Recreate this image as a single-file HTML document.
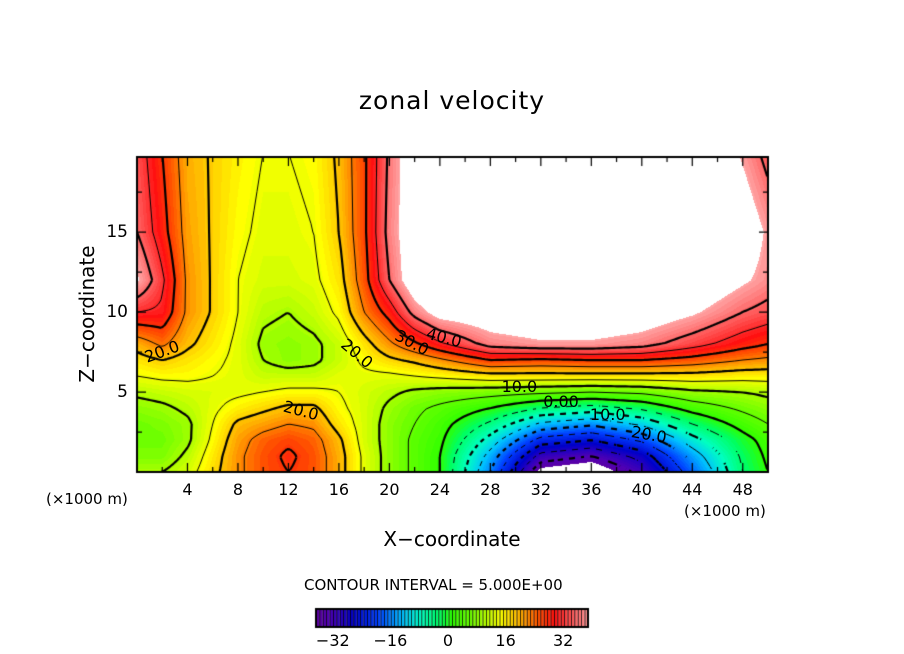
<!DOCTYPE html>
<html><head><meta charset="utf-8"><style>
body{margin:0;background:#fff;width:904px;height:654px;overflow:hidden;position:relative;font-family:"DejaVu Sans","Liberation Sans",sans-serif}
.t{position:absolute;color:#000;white-space:nowrap}
</style></head><body>
<div class="t" style="left:0;width:904px;text-align:center;top:86px;font-size:25px;letter-spacing:1px">zonal velocity</div>
<div class="t" style="top:302px;width:180px;text-align:center;font-size:20px;transform:rotate(-90deg);transform-origin:90px 12px;left:-3px">Z−coordinate</div>
<div class="t" style="left:352px;width:200px;text-align:center;top:527px;font-size:20px">X−coordinate</div>
<div class="t" style="left:46px;top:490px;font-size:15px">(×1000 m)</div>
<div class="t" style="left:684px;top:502px;font-size:15px">(×1000 m)</div>
<div class="t" style="left:304px;top:576px;font-size:15px">CONTOUR INTERVAL = 5.000E+00</div>
<canvas id="cv" width="904" height="654" style="position:absolute;left:0;top:0"></canvas>
<div id="lbls"></div>
<script>
const xs=[0,2,4,8,10,12,14,16,18,20,22,24,28,32,36,40,44,48,50];
const zs=[0,1,2,3,4,5,6,7,8,10,12,15,20];
const vals=[
[10,7,6,6,8,11,15,18,22,35,46,40,38],
[10,7,6,7,9,12,16,20,26,34,36,32,30],
[13,11,9,9,11,13,16,18,21,24,24,23,22],
[24,24,23,21,17,14,14,14,14,15,15,16,17],
[28,28,27,23,19,15,12,10,9,11,13,14,15],
[30,31,29,25,21,16,12,8,8,10,13,14,15],
[28,28,27,24,21,16,12,9,9,12,14,15,16],
[22,22,21,18,16,15,14,12,12,16,18,20,21],
[14,14,13,13,13,13,14,16,18,25,28,29,29],
[8,8,8,8,9,11,14,19,24,32,40,42,41],
[4,4,4,5,6,9,15,21,29,42,50,50,50],
[0,0,1,2,4,8,16,24,34,48,55,55,55],
[-20,-17,-12,-6,0,7,18,30,42,50,55,55,55],
[-45,-37,-27,-16,-5,6,18,29,44,52,55,55,55],
[-48,-40,-30,-19,-7,5,18,30,44,52,55,55,55],
[-38,-33,-24,-14,-4,6,18,30,42,50,55,55,55],
[-22,-18,-12,-5,2,9,18,28,37,46,52,55,55],
[-5,-4,-2,2,6,10,17,25,32,40,46,50,44],
[0,1,2,5,8,11,17,24,30,38,43,44,38]];
const xTicks=[4,8,12,16,20,24,28,32,36,40,44,48];
const zTicks=[5,10,15];
const barTicks=[-32,-16,0,16,32];
const levels=[-40,-35,-30,-25,-20,-15,-10,-5,0,5,10,15,20,25,30,35,40];
const contourLabels=[{t:"20.0",x:2.0,z:7.5,r:-20},{t:"20.0",x:17.4,z:7.4,r:40},{t:"30.0",x:21.8,z:8.1,r:28},{t:"40.0",x:24.3,z:8.4,r:15},{t:"20.0",x:13.0,z:3.8,r:15},{t:"10.0",x:30.3,z:5.3,r:0},{t:"0.00",x:33.6,z:4.4,r:0},{t:"10.0",x:37.3,z:3.6,r:0},{t:"20.0",x:40.6,z:2.3,r:10}];

const L=137,R=768,T=157,B=472,X0=0,X1=50,Z0=0,Z1=19.7;
const sx=x=>L+(x-X0)/(X1-X0)*(R-L);
const sz=z=>B-(z-Z0)/(Z1-Z0)*(B-T);
function seg(a,v){let i=0;while(i<a.length-2&&v>a[i+1])i++;return [i,Math.max(0,Math.min(1,(v-a[i])/(a[i+1]-a[i])))];}
function field(x,z){const [i,fx]=seg(xs,x),[j,fz]=seg(zs,z);
 const a=vals[i][j],b=vals[i+1][j],c=vals[i][j+1],d=vals[i+1][j+1];
 return a*(1-fx)*(1-fz)+b*fx*(1-fz)+c*(1-fx)*fz+d*fx*fz;}
const stops=[[-46,[100,0,150]],[-40,[80,0,180]],[-32,[0,0,200]],[-24,[0,64,255]],[-16,[0,192,255]],[-10,[0,255,192]],[-4,[0,255,96]],[0,[48,255,0]],[6,[110,255,0]],[12,[200,255,0]],[16,[255,255,0]],[22,[255,176,0]],[28,[255,80,0]],[33,[255,16,16]],[38,[255,80,80]],[45,[255,165,165]]];
function col(v){if(v<=stops[0][0])return stops[0][1];for(let k=0;k<stops.length-1;k++){const [a,ca]=stops[k],[b,cb]=stops[k+1];if(v<=b){const f=(v-a)/(b-a);return ca.map((c,i)=>Math.round(c+(cb[i]-c)*f));}}return stops[stops.length-1][1];}
const cv=document.getElementById('cv'),ctx=cv.getContext('2d');
const W=R-L,H=B-T,img=ctx.createImageData(W,H);
for(let py=0;py<H;py++)for(let px=0;px<W;px++){
 const x=X0+(px+0.5)/W*(X1-X0),z=Z0+(H-py-0.5)/H*(Z1-Z0);
 const v=field(x,z);let c=(v>45||v<-43)?[255,255,255]:col(Math.round(v));
 const o=(py*W+px)*4;img.data[o]=c[0];img.data[o+1]=c[1];img.data[o+2]=c[2];img.data[o+3]=255;}
ctx.putImageData(img,L,T);
const st=3,nx=Math.ceil(W/st),nz=Math.ceil(H/st),g=[];
for(let i=0;i<=nx;i++){g[i]=[];for(let j=0;j<=nz;j++){g[i][j]=field(X0+Math.min(i*st,W)/W*(X1-X0),Z0+Math.min(j*st,H)/H*(Z1-Z0));}}
ctx.save();ctx.beginPath();ctx.rect(L,T,W,H);ctx.clip();
levels.forEach(lv=>{
 ctx.beginPath();
 for(let i=0;i<nx;i++)for(let j=0;j<nz;j++){
  if(lv<0&&Math.floor((i+j)/2)%2)continue;
  const c=[[i,j],[i+1,j],[i+1,j+1],[i,j+1]],p=[];
  for(let k=0;k<4;k++){const A=c[k],Bc=c[(k+1)%4],va=g[A[0]][A[1]],vb=g[Bc[0]][Bc[1]];
   if((va<lv)!==(vb<lv)){const f=(lv-va)/(vb-va);p.push([L+(A[0]+(Bc[0]-A[0])*f)*st,B-(A[1]+(Bc[1]-A[1])*f)*st]);}}
  for(let k=0;k+1<p.length;k+=2){ctx.moveTo(p[k][0],p[k][1]);ctx.lineTo(p[k+1][0],p[k+1][1]);}
 }
 ctx.lineWidth=(lv%10===0)?2.2:1;ctx.strokeStyle='#000';ctx.stroke();
});
ctx.restore();
ctx.lineWidth=2;ctx.strokeStyle='#000';ctx.strokeRect(L,T,W,H);
ctx.lineWidth=1.2;ctx.beginPath();
for(let x=2;x<50;x+=2){const m=x%4===0?9:5,p=sx(x);ctx.moveTo(p,B);ctx.lineTo(p,B-m);ctx.moveTo(p,T);ctx.lineTo(p,T+m);}
for(let z=2.5;z<Z1;z+=2.5){const m=z%5===0?9:5,p=sz(z);ctx.moveTo(L,p);ctx.lineTo(L+m,p);ctx.moveTo(R,p);ctx.lineTo(R-m,p);}
ctx.stroke();
const bL=316,bR=588,bT=609,bB=627,nC=80;
for(let k=0;k<nC;k++){const v=-44+(k+0.5)*88/nC,c=col(v);const x0=bL+k*(bR-bL)/nC;
 ctx.fillStyle='rgb('+c.join(',')+')';ctx.fillRect(x0,bT,(bR-bL)/nC,bB-bT);
 ctx.fillStyle='#000';ctx.fillRect(x0,bT,0.8,bB-bT);}
ctx.lineWidth=2;ctx.strokeRect(bL,bT,bR-bL,bB-bT);
const lb=document.getElementById('lbls');
function addT(txt,x,y,fs,name,extra){const d=document.createElement('div');d.className='t';d.textContent=txt;
 d.style.cssText+='left:'+(x-40)+'px;top:'+(y-fs*0.62)+'px;width:80px;text-align:center;font-size:'+fs+'px;'+(extra||'');
 
 
 lb.appendChild(d);}
xTicks.forEach(t=>addT(String(t),sx(t),490,16,'x-tick-label'));
zTicks.forEach(t=>{const d=document.createElement('div');d.className='t';d.textContent=String(t);d.style.cssText+='right:'+(904-128)+'px;top:'+(sz(t)-10)+'px;font-size:17px;';
 
 
 lb.appendChild(d);});
const barPx=v=>448+v*3.6;
barTicks.forEach(t=>addT(t<0?'−'+(-t):String(t),barPx(t),641,16,'colorbar-tick-label'));
contourLabels.forEach(c=>addT(c.t,sx(c.x),sz(c.z),16,'contour-label','transform:rotate('+c.r+'deg);'));
</script>
</body></html>
